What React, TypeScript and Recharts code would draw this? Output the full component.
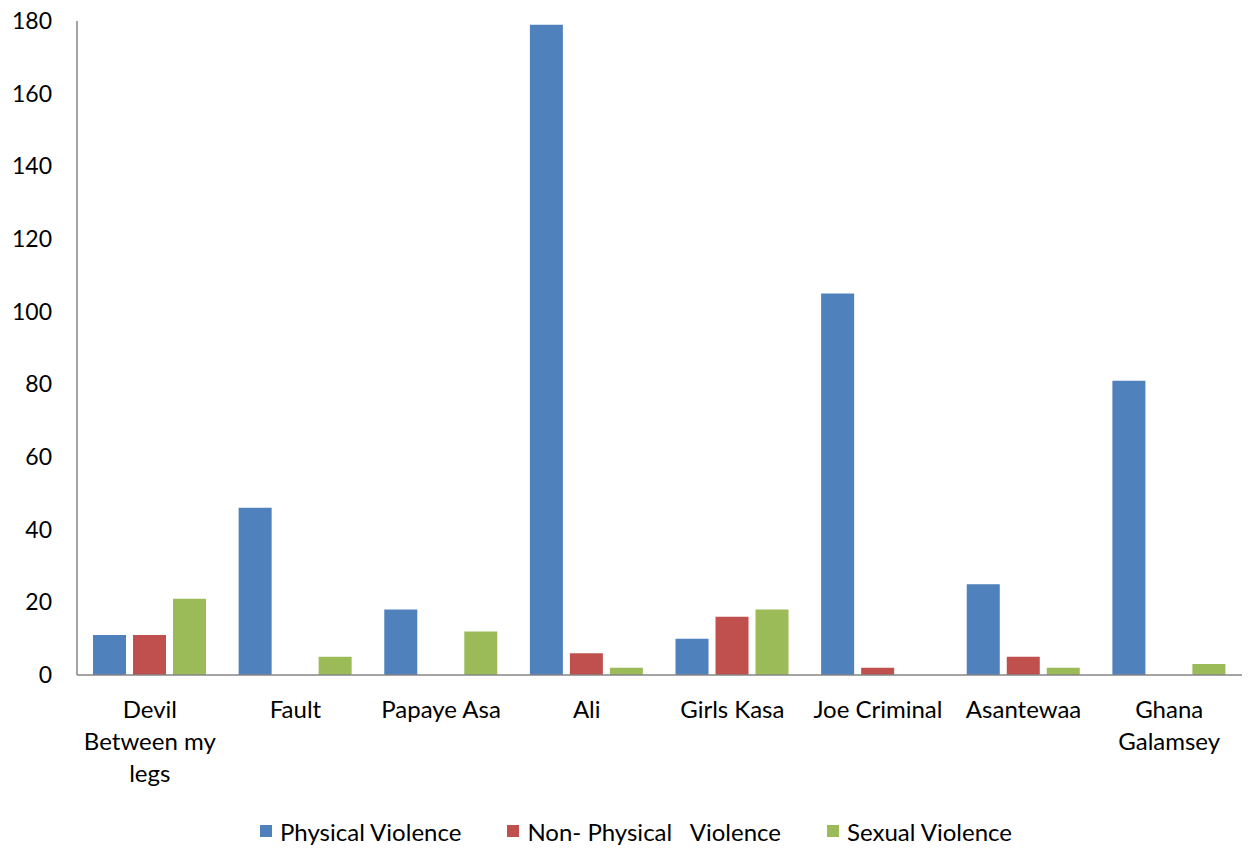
import { BarChart, Bar, XAxis, YAxis, Legend } from "recharts";

const films = [
  "Devil\nBetween my\nlegs",
  "Fault",
  "Papaye Asa",
  "Ali",
  "Girls Kasa",
  "Joe Criminal",
  "Asantewaa",
  "Ghana\nGalamsey",
];
const physical = [11, 46, 18, 179, 10, 105, 25, 81];
const nonPhysical = [11, 0, 0, 6, 16, 2, 5, 0];
const sexual = [21, 5, 12, 2, 18, 0, 2, 3];
const yTicks = [0, 20, 40, 60, 80, 100, 120, 140, 160, 180];

const seriesNames = ["Physical Violence", "Non- Physical   Violence", "Sexual Violence"];
const colors = ["#4F81BD", "#C0504D", "#9BBB59"];

const data = films.map((name, i) => ({
  name,
  physical: physical[i],
  nonPhysical: nonPhysical[i],
  sexual: sexual[i],
}));

const font = "Lato, 'Open Sans', sans-serif";

function FilmTick(props: any) {
  const { x, y, payload } = props;
  const lines = String(payload.value).split("\n");
  return (
    <text x={x} y={y} textAnchor="middle" fill="#000" fontSize={24} fontFamily={font}>
      {lines.map((l, i) => (
        <tspan key={i} x={x} y={y + 43 + i * 32}>
          {l}
        </tspan>
      ))}
    </text>
  );
}

function ChartLegend() {
  return (
    <div
      style={{
        height: 50,
        paddingTop: 16,
        paddingLeft: 30,
        boxSizing: "border-box",
        display: "flex",
        justifyContent: "center",
        alignItems: "center",
        gap: 46,
        fontFamily: font,
        fontSize: 24,
        color: "#000",
      }}
    >
      {seriesNames.map((n, i) => (
        <div key={n} style={{ display: "flex", alignItems: "center" }}>
          <span style={{ width: 12, height: 12, background: colors[i], marginRight: 8, display: "inline-block" }} />
          <span style={{ whiteSpace: "pre" }}>{n}</span>
        </div>
      ))}
    </div>
  );
}

export default function App() {
  return (
    <div style={{ position: "absolute", left: 0, top: 0, background: "#fff" }}>
      <BarChart
        width={1250}
        height={848}
        data={data}
        margin={{ top: 21, right: 8, left: 0, bottom: 0 }}
        barCategoryGap="11%"
        barGap={7}
      >
        <XAxis
          dataKey="name"
          height={123}
          tickLine={false}
          tickSize={0}
          tickMargin={0}
          interval={0}
          tick={<FilmTick />}
          axisLine={{ stroke: "#868686", strokeWidth: 1.5 }}
        />
        <YAxis
          width={77}
          domain={[0, 180]}
          ticks={yTicks}
          tickLine={false}
          tickSize={0}
          tickMargin={25}
          axisLine={{ stroke: "#868686", strokeWidth: 1.5 }}
          tick={{ fill: "#000", fontSize: 23, fontFamily: font }}
        />
        <Legend verticalAlign="bottom" content={<ChartLegend />} />
        <Bar dataKey="physical" name={seriesNames[0]} fill={colors[0]} isAnimationActive={false} />
        <Bar dataKey="nonPhysical" name={seriesNames[1]} fill={colors[1]} isAnimationActive={false} />
        <Bar dataKey="sexual" name={seriesNames[2]} fill={colors[2]} isAnimationActive={false} />
      </BarChart>
    </div>
  );
}
